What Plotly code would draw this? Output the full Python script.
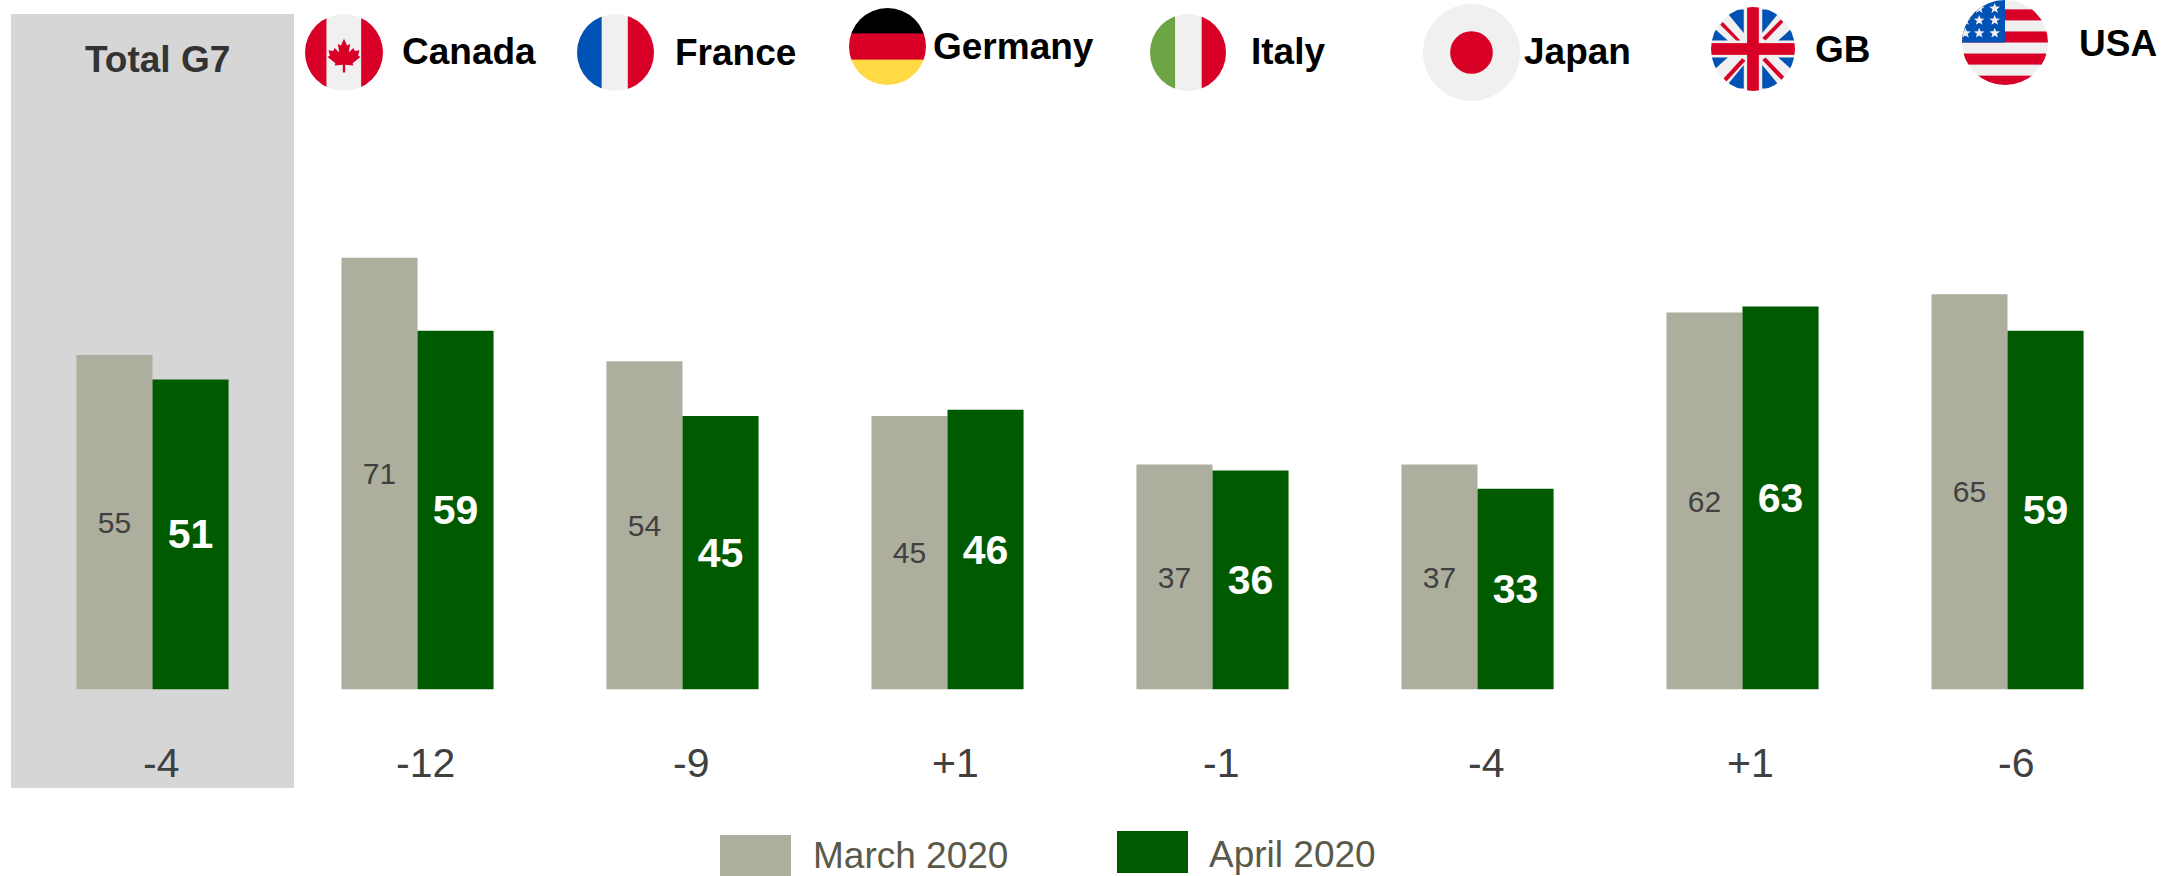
import base64, math
import plotly.graph_objects as go

W, H = 2184, 876
FONT = "Liberation Sans"

categories = ["Total G7", "Canada", "France", "Germany", "Italy", "Japan", "GB", "USA"]
march_2020 = [55, 71, 54, 45, 37, 37, 62, 65]
april_2020 = [51, 59, 45, 46, 36, 33, 63, 59]
changes = ["-4", "-12", "-9", "+1", "-1", "-4", "+1", "-6"]

GREY = "#ADAE9E"
GREEN = "#005A00"
RED = "#D80027"
WHITE = "#F0F0F0"
BLUE = "#0052B4"


def star(cx, cy, r):
    pts = []
    for i in range(10):
        a = -math.pi / 2 + i * math.pi / 5
        rr = r if i % 2 == 0 else r * 0.42
        pts.append(f"{cx + rr * math.cos(a):.2f},{cy + rr * math.sin(a):.2f}")
    return f'<polygon points="{" ".join(pts)}" fill="{WHITE}"/>'


def flag(body):
    svg = (
        '<svg xmlns="http://www.w3.org/2000/svg" width="200" height="200" viewBox="0 0 100 100">'
        '<defs><clipPath id="c"><ellipse cx="50" cy="50" rx="50" ry="50"/></clipPath></defs>'
        f'<g clip-path="url(#c)">{body}</g></svg>'
    )
    return "data:image/svg+xml;base64," + base64.b64encode(svg.encode()).decode()


def rect(x, y, w, h, c):
    return f'<rect x="{x}" y="{y}" width="{w}" height="{h}" fill="{c}"/>'


leaf = (
    '<polygon fill="%s" points="50,32 54,41 58,39 56,50 62,44 64,48 70,47 68,54 71,56 61,64 62,67 51.5,66 '
    '51.5,76 48.5,76 48.5,66 38,67 39,64 29,56 32,54 30,47 36,48 38,44 44,50 42,39 46,41"/>' % RED
)
canada = rect(0, 0, 100, 100, WHITE) + rect(0, 0, 27.5, 100, RED) + rect(72, 0, 28, 100, RED) + leaf
france = rect(0, 0, 100, 100, WHITE) + rect(0, 0, 32, 100, BLUE) + rect(66, 0, 34, 100, RED)
germany = rect(0, 0, 100, 34, "#000000") + rect(0, 33, 100, 35, RED) + rect(0, 67, 100, 33, "#FFDA44")
italy = rect(0, 0, 100, 100, WHITE) + rect(0, 0, 33, 100, "#6DA544") + rect(68, 0, 32, 100, RED)
japan = rect(0, 0, 100, 100, WHITE) + f'<ellipse cx="50" cy="50" rx="22" ry="22" fill="{RED}"/>'
gb = (
    rect(0, 0, 100, 100, WHITE)
    + f'<polygon fill="{BLUE}" points="16,3 39,3 39,31"/><polygon fill="{BLUE}" points="61,3 84,3 61,31"/>'
    + f'<polygon fill="{BLUE}" points="0,40 0,22 20,40"/><polygon fill="{BLUE}" points="100,40 100,22 80,40"/>'
    + f'<polygon fill="{BLUE}" points="0,60 0,78 20,60"/><polygon fill="{BLUE}" points="100,60 100,78 80,60"/>'
    + f'<polygon fill="{BLUE}" points="16,97 39,97 39,69"/><polygon fill="{BLUE}" points="61,97 84,97 61,69"/>'
    + f'<polygon fill="{RED}" points="14,18 35,40 30,40 11,21"/><polygon fill="{RED}" points="86,18 65,40 61,37 83,15"/>'
    + f'<polygon fill="{RED}" points="15,85 37,61 41,64 18,89"/><polygon fill="{RED}" points="87,83 65,60 61,63 84,87"/>'
    + rect(43, 0, 14, 100, RED)
    + rect(0, 43, 100, 14, RED)
)
usa = (
    rect(0, 0, 100, 100, WHITE)
    + rect(0, 11, 100, 13, RED)
    + rect(0, 37, 100, 13, RED)
    + rect(0, 63, 100, 13, RED)
    + rect(0, 89, 100, 11, RED)
    + rect(0, 0, 50, 50, BLUE)
    + "".join(star(x, y, 6.5) for x, y in [(20, 10), (38, 10), (20, 24), (38, 24), (4, 39), (20, 39), (38, 39), (4, 24)])
)

# flag: body, left, top, right, bottom in page pixels
flags = [
    (canada, 305, 14, 383, 91),
    (france, 577, 14, 654, 91),
    (germany, 849, 8, 926, 85),
    (italy, 1150, 14, 1226, 91),
    (japan, 1423, 4, 1520, 101),
    (gb, 1711, 7, 1795, 91),
    (usa, 1962, 0, 2048, 85),
]
# header label: text, left, vertical centre
headers = [
    ("Canada", 401, 51),
    ("France", 674, 53),
    ("Germany", 932, 46),
    ("Italy", 1250, 52),
    ("Japan", 1523, 52),
    ("GB", 1814, 50),
    ("USA", 2078, 43),
]


def px(x):
    return x / W


def py(y):
    return 1 - y / H


fig = go.Figure()
fig.add_bar(
    x=categories, y=march_2020, name="March 2020", marker=dict(color=GREY, line_width=0),
    text=march_2020, textposition="inside", insidetextanchor="middle", textangle=0,
    textfont=dict(family=FONT, size=30, color="#404040"),
)
fig.add_bar(
    x=categories, y=april_2020, name="April 2020", marker=dict(color=GREEN, line_width=0),
    text=april_2020, textposition="inside", insidetextanchor="middle", textangle=0,
    textfont=dict(family=FONT, size=41, color="#FFFFFF", weight=700),
)

shapes = [
    dict(type="rect", xref="paper", yref="paper", x0=px(11), x1=px(294), y0=py(788), y1=py(14),
         fillcolor="#D6D6D6", line_width=0, layer="below"),
    dict(type="rect", xref="paper", yref="paper", x0=px(720), x1=px(791), y0=py(876), y1=py(835),
         fillcolor=GREY, line_width=0),
    dict(type="rect", xref="paper", yref="paper", x0=px(1117), x1=px(1188), y0=py(873), y1=py(831),
         fillcolor=GREEN, line_width=0),
]

images = [
    dict(source=flag(b), xref="paper", yref="paper", x=px(l), y=py(t), sizex=(r - l) / W, sizey=(bt - t) / H,
         xanchor="left", yanchor="top", sizing="stretch", layer="above")
    for b, l, t, r, bt in flags
]


def note(text, x, y, size, color, bold=False, anchor="left"):
    return dict(text=text, xref="paper", yref="paper", x=px(x), y=py(y), xanchor=anchor, yanchor="middle",
                showarrow=False, borderpad=0, font=dict(family=FONT, size=size, color=color, weight=700 if bold else 400))


annotations = [note(t, x, y, 37, "#000000", True) for t, x, y in headers]
annotations.append(note("Total G7", 157, 59, 37, "#333333", True, "center"))
annotations.append(note("March 2020", 812, 855, 37, "#5A5A4A"))
annotations.append(note("April 2020", 1208, 854, 37, "#5A5A4A"))
for cat, ch in zip(categories, changes):
    annotations.append(dict(text=ch, x=cat, xref="x", yref="paper", y=py(763), xanchor="center", yanchor="middle",
                            xshift=8, showarrow=False, font=dict(family=FONT, size=41, color="#404040")))

fig.update_layout(
    width=W, height=H, autosize=False,
    margin=dict(l=0, r=0, t=0, b=0, pad=0),
    paper_bgcolor="#FFFFFF", plot_bgcolor="rgba(0,0,0,0)",
    barmode="group", bargap=0.426, bargroupgap=0, showlegend=False,
    font=dict(family=FONT),
    xaxis=dict(domain=[20 / W, 2140 / W], range=[-0.5, 7.5], type="category", categoryorder="array",
               categoryarray=categories, showticklabels=False, showgrid=False, zeroline=False, showline=False, ticks=""),
    yaxis=dict(domain=[(H - 689.5) / H, 1], range=[0, 689.5 / 6.08], showticklabels=False, showgrid=False,
               zeroline=False, showline=False, ticks=""),
    shapes=shapes, images=images, annotations=annotations,
)
fig.write_html("out.html", config=dict(displayModeBar=False),
               post_script="document.body.style.margin='0';")
